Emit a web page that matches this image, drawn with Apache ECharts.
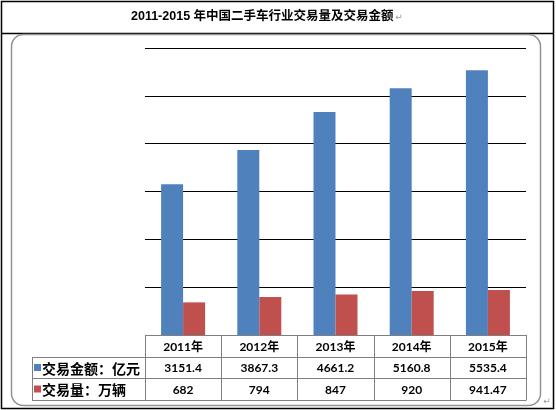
<!DOCTYPE html>
<html>
<head>
<meta charset="utf-8">
<script src="https://cdn.jsdelivr.net/npm/echarts@6/dist/echarts.min.js"></script>
<style>
html,body{margin:0;padding:0;background:#fff;}
#c{width:556px;height:410px;}
</style>
</head>
<body>
<div id="c"></div>
<script>
// ---- data ----
var titleText = '2011-2015 年中国二手车行业交易量及交易金额';
var years = ['2011年', '2012年', '2013年', '2014年', '2015年'];
var amountName = '交易金额：亿元';
var amountValues = [3151.4, 3867.3, 4661.2, 5160.8, 5535.4];
var amountLabels = ['3151.4', '3867.3', '4661.2', '5160.8', '5535.4'];
var volumeName = '交易量：万辆';
var volumeValues = [682, 794, 847, 920, 941.47];
var volumeLabels = ['682', '794', '847', '920', '941.47'];

// ---- layout ----
var W = 556, H = 410;
var gridLeft = 145, gridRight = 30, gridTop = 48, gridBottom = 75;
var gridW = W - gridLeft - gridRight;
var colW = gridW / years.length;
var baseY = H - gridBottom;          // 335
var rowY = [baseY, 357, 378, 400];
var labelLeft = 32;
var tableRight = gridLeft + gridW;
var BLUE = '#4F81BD', RED = '#C0504D';
var lineColor = '#7f7f7f';
var numFont = 'Lato, "Liberation Sans", "Noto Sans CJK SC", sans-serif';
var cjkFont = '"Noto Sans CJK SC", sans-serif';

var g = [];
// outer border
g.push({type:'rect', shape:{x:1.5, y:1.5, width:552, height:407}, style:{fill:'none', stroke:'#000', lineWidth:1.5}, z:1});
// title line
g.push({type:'line', shape:{x1:1.5, y1:33.5, x2:553.5, y2:33.5}, style:{stroke:'#000', lineWidth:1.5}, z:1});
// rounded chart area
g.push({type:'rect', shape:{x:11.5, y:34.5, width:529, height:371, r:12}, style:{fill:'none', stroke:'#929292', lineWidth:1.5}, z:1});
// title
g.push({type:'text', x:131, y:17, style:{text:titleText, font:'bold 12.5px "Liberation Sans", "Noto Sans CJK SC", sans-serif', fill:'#000', align:'left', verticalAlign:'middle'}, z:5});
g.push({type:'text', x:399, y:18, style:{text:'↵', font:'9px "DejaVu Sans", sans-serif', fill:'#999', align:'center', verticalAlign:'middle'}, z:5});
g.push({type:'text', x:547, y:402, style:{text:'↵', font:'9px "DejaVu Sans", sans-serif', fill:'#999', align:'center', verticalAlign:'middle'}, z:5});

// table horizontal lines
g.push({type:'line', shape:{x1:gridLeft, y1:rowY[0]+0.5, x2:tableRight, y2:rowY[0]+0.5}, style:{stroke:lineColor, lineWidth:1}, z:20});
for (var r = 1; r < rowY.length; r++) {
  g.push({type:'line', shape:{x1:labelLeft, y1:rowY[r]+0.5, x2:tableRight, y2:rowY[r]+0.5}, style:{stroke:lineColor, lineWidth:1}, z:20});
}
// vertical lines
g.push({type:'line', shape:{x1:labelLeft+0.5, y1:rowY[1], x2:labelLeft+0.5, y2:rowY[3]+0.5}, style:{stroke:lineColor, lineWidth:1}, z:20});
for (var i = 0; i <= years.length; i++) {
  var xx = Math.round(gridLeft + i * colW) + 0.5;
  g.push({type:'line', shape:{x1:xx, y1:rowY[0], x2:xx, y2:rowY[3]+0.5}, style:{stroke:lineColor, lineWidth:1}, z:20});
}
// cell texts
for (var j = 0; j < years.length; j++) {
  var cx = gridLeft + (j + 0.5) * colW;
  g.push({type:'text', x:cx, y:(rowY[0]+rowY[1])/2+1, style:{text:years[j], font:'bold 12px ' + numFont, fill:'#000', align:'center', verticalAlign:'middle'}, z:21});
  g.push({type:'text', x:cx, y:(rowY[1]+rowY[2])/2+1, style:{text:amountLabels[j], font:'bold 12px ' + numFont, fill:'#000', align:'center', verticalAlign:'middle'}, z:21});
  g.push({type:'text', x:cx, y:(rowY[2]+rowY[3])/2+1, style:{text:volumeLabels[j], font:'bold 12px ' + numFont, fill:'#000', align:'center', verticalAlign:'middle'}, z:21});
}
// row labels with legend keys
g.push({type:'rect', shape:{x:34, y:(rowY[1]+rowY[2])/2-3.5, width:7, height:7}, style:{fill:BLUE}, z:21});
g.push({type:'text', x:42, y:(rowY[1]+rowY[2])/2+1, style:{text:amountName, font:'bold 14px ' + cjkFont, fill:'#000', align:'left', verticalAlign:'middle'}, z:21});
g.push({type:'rect', shape:{x:34, y:(rowY[2]+rowY[3])/2-3.5, width:7, height:7}, style:{fill:RED}, z:21});
g.push({type:'text', x:42, y:(rowY[2]+rowY[3])/2+1, style:{text:volumeName, font:'bold 14px ' + cjkFont, fill:'#000', align:'left', verticalAlign:'middle'}, z:21});

var chart = echarts.init(document.getElementById('c'), null, {renderer:'canvas'});
chart.setOption({
  animation: false,
  backgroundColor: '#fff',
  grid: {left: gridLeft, right: gridRight, top: gridTop, bottom: gridBottom, containLabel: false},
  xAxis: {
    type: 'category', data: years,
    axisLine: {show: false}, axisTick: {show: false}, axisLabel: {show: false}
  },
  yAxis: {
    type: 'value', min: 0, max: 6000, interval: 1000,
    axisLine: {show: false}, axisTick: {show: false}, axisLabel: {show: false},
    splitLine: {show: true, lineStyle: {color: '#000', width: 1}}
  },
  series: [
    {name: amountName, type: 'bar', data: amountValues, barWidth: 22, barGap: '0%', itemStyle: {color: BLUE}},
    {name: volumeName, type: 'bar', data: volumeValues, barWidth: 22, barGap: '0%', itemStyle: {color: RED}}
  ],
  graphic: {elements: g}
});
</script>
</body>
</html>
